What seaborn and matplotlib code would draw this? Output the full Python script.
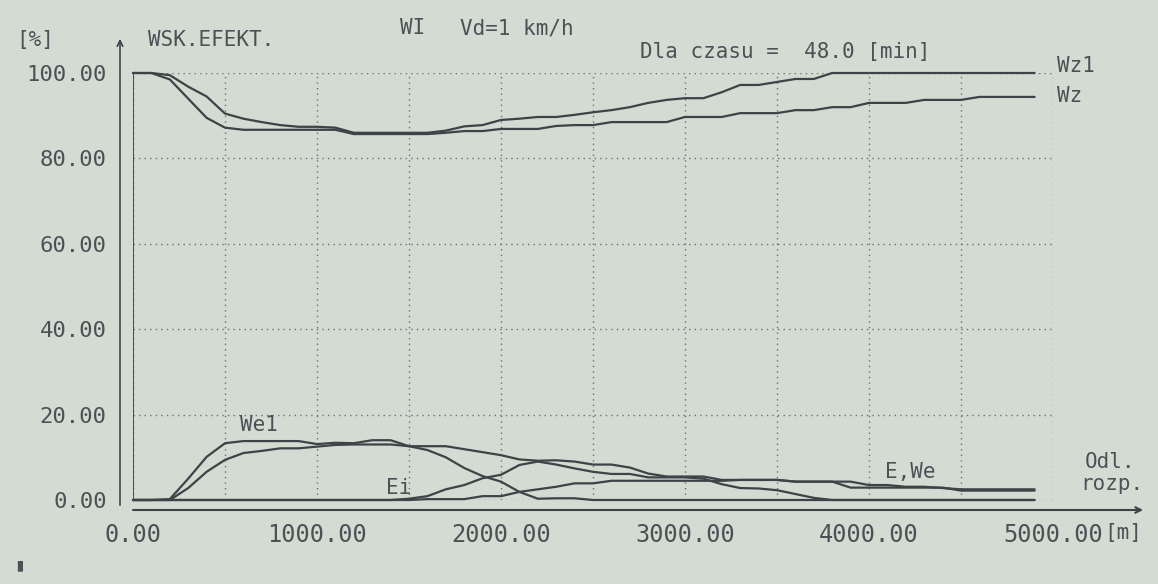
import pandas as pd
import seaborn as sns
import matplotlib.pyplot as plt
from matplotlib.ticker import MultipleLocator

# distance along the plume [m], sampled every 100 m
dist = list(range(0, 5000, 100))

# efficiency curves [%]
wz1 = [100, 100, 99.5, 96.8, 94.5, 90.5, 89.3, 88.5, 87.8, 87.4,
       87.4, 87.2, 86.0, 86.0, 86.0, 86.0, 86.0, 86.5, 87.5, 87.8,
       89.0, 89.3, 89.7, 89.7, 90.2, 90.8, 91.3, 92.0, 93.0, 93.7,
       94.1, 94.1, 95.5, 97.2, 97.2, 97.9, 98.6, 98.6, 100, 100,
       100, 100, 100, 100, 100, 100, 100, 100, 100, 100]
wz = [100, 100, 98.5, 94.0, 89.5, 87.2, 86.7, 86.7, 86.7, 86.7,
      86.7, 86.7, 85.7, 85.7, 85.7, 85.7, 85.7, 86.0, 86.4, 86.4,
      86.9, 86.9, 86.9, 87.6, 87.8, 87.8, 88.5, 88.5, 88.5, 88.5,
      89.7, 89.7, 89.7, 90.6, 90.6, 90.6, 91.3, 91.3, 92.0, 92.0,
      93.0, 93.0, 93.0, 93.7, 93.7, 93.7, 94.4, 94.4, 94.4, 94.4]
we1 = [0, 0, 0.2, 5.0, 10.1, 13.3, 13.8, 13.8, 13.8, 13.8,
       13.1, 13.4, 13.3, 14.0, 14.0, 12.6, 12.6, 12.6, 11.9, 11.2,
       10.5, 9.5, 9.2, 9.3, 9.0, 8.3, 8.3, 7.6, 6.2, 5.5,
       5.5, 5.5, 4.7, 4.7, 4.7, 4.7, 4.3, 4.3, 4.3, 4.3,
       3.5, 3.5, 3.1, 3.1, 2.8, 2.5, 2.5, 2.5, 2.5, 2.5]
we = [0, 0, 0, 2.8, 6.6, 9.4, 11.0, 11.5, 12.1, 12.1,
      12.5, 12.9, 13.0, 13.0, 13.0, 12.6, 11.7, 10.0, 7.5, 5.6,
      4.3, 1.9, 0.3, 0.4, 0.4, 0, 0, 0, 0, 0,
      0, 0, 0, 0, 0, 0, 0, 0, 0, 0,
      0, 0, 0, 0, 0, 0, 0, 0, 0, 0]
ei = [0, 0, 0, 0, 0, 0, 0, 0, 0, 0,
      0, 0, 0, 0, 0, 0.3, 0.9, 2.5, 3.5, 5.1,
      5.9, 8.2, 9.0, 8.3, 7.4, 6.6, 6.1, 6.1, 5.3, 5.3,
      5.3, 5.0, 3.7, 2.8, 2.7, 2.3, 1.4, 0.5, 0, 0,
      0, 0, 0, 0, 0, 0, 0, 0, 0, 0]
e = [0, 0, 0, 0, 0, 0, 0, 0, 0, 0,
     0, 0, 0, 0, 0, 0, 0.2, 0.2, 0.2, 0.9,
     0.9, 1.9, 2.5, 3.1, 3.9, 3.9, 4.5, 4.5, 4.5, 4.5,
     4.5, 4.5, 4.5, 4.7, 4.7, 4.7, 4.3, 4.3, 4.3, 2.9,
     2.9, 2.9, 2.9, 2.9, 2.9, 2.2, 2.2, 2.2, 2.2, 2.2]

series = {'Wz1': wz1, 'Wz': wz, 'We1': we1, 'We': we, 'Ei': ei, 'E': e}

y_ticks = [0, 20, 40, 60, 80, 100]
x_ticks = [0, 1000, 2000, 3000, 4000, 5000]

W, H = 1158, 584
paper = '#d4dbd3'
ink = '#3e4347'
txt = '#4c5156'
grid_c = '#6b7075'

sns.set_style('white', {'axes.facecolor': paper, 'figure.facecolor': paper})
plt.rcParams['font.family'] = ['DejaVu Sans Mono']

df = pd.concat([pd.DataFrame({'dist': dist, 'value': v, 'series': k})
                for k, v in series.items()], ignore_index=True)

fig = plt.figure(figsize=(W / 100, H / 100), dpi=100)
ax = fig.add_axes([133 / W, 84 / H, 920 / W, 427 / H])

sns.lineplot(data=df, x='dist', y='value', hue='series', palette=[ink] * len(series),
             legend=False, linewidth=1.6, estimator=None, ax=ax, clip_on=False)

ax.set_xlim(0, 5000)
ax.set_ylim(0, 100)
ax.set_xlabel('')
ax.set_ylabel('')

# dotted grid
ax.xaxis.set_major_locator(MultipleLocator(1000))
ax.xaxis.set_minor_locator(MultipleLocator(500))
ax.set_xticks(x_ticks, labels=[f'{v:.2f}' for v in x_ticks])
ax.set_yticks(y_ticks, labels=[f'{v:.2f}' for v in y_ticks])
ax.grid(which='both', axis='x', ls=(0, (1, 3)), color=grid_c, lw=1)
ax.grid(which='major', axis='y', ls=(0, (1, 3)), color=grid_c, lw=1)
ax.set_axisbelow(True)

# axes drawn like the old plotter: offset lines with arrows
for s in ['top', 'right', 'left', 'bottom']:
    ax.spines[s].set_visible(False)
ax.spines['bottom'].set_position(('outward', 7.2))
ax.spines['left'].set_position(('outward', 9))
ax.axvline(0, color=ink, lw=1.3)
ax.annotate('', xy=(5490, -10), xytext=(0, -10), xycoords=('data', 'axes pixels'),
            textcoords=('data', 'axes pixels'), annotation_clip=False,
            arrowprops=dict(arrowstyle='->', color=ink, lw=1.5, shrinkA=0, shrinkB=0))
ax.annotate('', xy=(-13, 108), xytext=(-13, -1.2), xycoords=('axes pixels', 'data'),
            textcoords=('axes pixels', 'data'), annotation_clip=False,
            arrowprops=dict(arrowstyle='->', color=ink, lw=1.2, shrinkA=0, shrinkB=0))

ax.tick_params(axis='y', direction='out', length=7, width=1.3, color=ink, pad=3,
               labelsize=16, labelcolor=txt)
ax.tick_params(axis='x', which='both', direction='out', length=5, width=1.3, color=ink,
               pad=4, labelsize=17, labelcolor=txt)


def put(x, y, s, size=15):
    fig.text(x / W, 1 - y / H, s, color=txt, fontsize=size, va='center')


put(16, 40, '[%]')
put(148, 40, 'WSK.EFEKT.')
put(400, 28, 'WI')
put(460, 28, 'Vd=1 km/h')
put(640, 52, 'Dla czasu =  48.0 [min]')
put(1057, 66, 'Wz1')
put(1057, 96, 'Wz')
put(240, 425, 'We1')
put(386, 488, 'Ei')
put(885, 472, 'E,We')
put(1085, 462, 'Odl.')
put(1080, 484, 'rozp.')
put(1104, 533, '[m]')
put(14, 565, '▮', size=13)

fig.savefig('out.png', dpi=100, facecolor=paper)
